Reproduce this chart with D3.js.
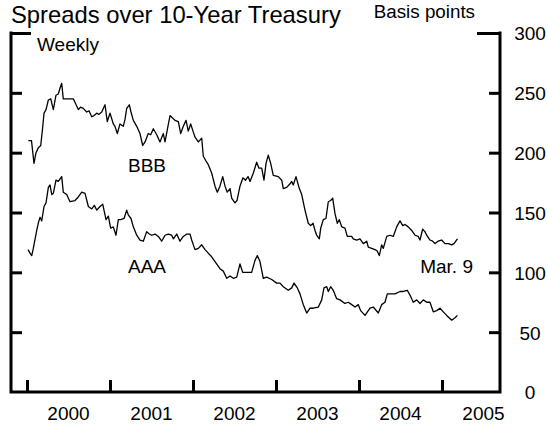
<!DOCTYPE html>
<html><head><meta charset="utf-8">
<script src="https://cdn.jsdelivr.net/npm/d3@7"></script>
<style>
body{margin:0;background:#fff;}
text{font-family:"Liberation Sans",Arial,sans-serif;fill:#000;}
</style></head>
<body><svg id="c" width="549" height="427"></svg>
<script>
// Weekly spreads (basis points), time as decimal offset in years from Jan 1, 2000
const bbbTime = [0.016,0.054,0.084,0.108,0.136,0.165,0.187,0.205,0.229,0.257,0.286,0.317,0.349,0.377,0.398,0.418,0.437,0.558,0.618,0.645,0.678,0.719,0.747,0.780,0.807,0.840,0.867,0.900,0.940,0.967,1.000,1.040,1.060,1.088,1.120,1.160,1.181,1.201,1.233,1.253,1.281,1.322,1.361,1.394,1.422,1.461,1.490,1.522,1.563,1.602,1.642,1.663,1.690,1.723,1.753,1.783,1.823,1.852,1.883,1.916,1.943,1.972,2.000,2.024,2.064,2.105,2.124,2.157,2.184,2.225,2.265,2.293,2.325,2.358,2.386,2.413,2.446,2.466,2.486,2.506,2.530,2.566,2.602,2.633,2.663,2.687,2.727,2.767,2.795,2.828,2.855,2.880,2.907,2.936,2.967,3.028,3.069,3.088,3.129,3.169,3.189,3.208,3.241,3.281,3.310,3.349,3.389,3.418,3.446,3.470,3.490,3.522,3.539,3.570,3.602,3.630,3.659,3.683,3.711,3.739,3.763,3.792,3.831,3.859,3.912,3.931,3.972,4.012,4.052,4.093,4.112,4.153,4.193,4.217,4.245,4.273,4.293,4.334,4.373,4.413,4.454,4.494,4.527,4.554,4.594,4.635,4.675,4.714,4.735,4.767,4.795,4.816,4.855,4.888,4.916,4.952,4.996,5.036,5.076,5.117,5.145,5.186];
const bbbValues = [210,210,191,200,204,206,220,233,236,244,245,236,248,249,254,258,245,245,236,238,237,234,235,230,231,233,232,234,240,226,233,224,222,216,224,222,228,237,240,234,227,222,216,206,209,216,215,220,215,209,216,209,219,231,229,227,226,216,222,227,218,224,218,213,209,212,197,193,190,183,172,167,172,180,172,167,170,162,160,158,160,172,179,177,180,176,183,192,187,187,177,191,198,191,181,180,177,170,171,174,176,173,180,170,165,152,141,139,141,135,131,128,137,144,145,159,160,162,149,141,144,138,137,130,130,128,127,128,124,126,121,120,119,118,114,123,120,130,131,130,138,143,139,140,138,135,131,130,127,136,134,131,127,126,124,126,127,124,124,123,124,128];
const aaaTime = [0.012,0.036,0.057,0.076,0.117,0.139,0.157,0.177,0.205,0.229,0.257,0.277,0.298,0.317,0.349,0.377,0.398,0.418,0.437,0.478,0.518,0.578,0.618,0.659,0.699,0.739,0.780,0.811,0.840,0.880,0.912,0.952,0.980,1.008,1.040,1.072,1.100,1.129,1.169,1.201,1.220,1.253,1.281,1.322,1.361,1.401,1.442,1.473,1.502,1.542,1.582,1.623,1.663,1.702,1.743,1.763,1.804,1.843,1.883,1.924,1.964,1.984,2.024,2.064,2.105,2.145,2.184,2.225,2.265,2.325,2.365,2.406,2.446,2.486,2.527,2.566,2.599,2.647,2.707,2.747,2.775,2.807,2.847,2.888,2.948,3.008,3.048,3.088,3.148,3.189,3.217,3.257,3.289,3.329,3.370,3.410,3.449,3.510,3.551,3.578,3.611,3.630,3.659,3.690,3.731,3.771,3.831,3.871,3.912,3.952,3.992,4.020,4.072,4.133,4.172,4.233,4.273,4.313,4.341,4.373,4.434,4.494,4.534,4.582,4.614,4.654,4.695,4.735,4.775,4.816,4.855,4.895,4.936,4.976,5.016,5.057,5.117,5.157,5.186];
const aaaValues = [119,116,114,120,135,142,146,143,155,158,171,173,165,166,177,176,178,180,167,165,159,160,163,167,166,155,153,156,152,155,157,144,147,137,138,131,144,144,145,152,148,145,138,131,127,126,134,132,131,132,130,126,131,132,131,128,132,126,130,132,132,127,119,120,123,119,116,113,109,103,101,95,97,95,96,107,100,100,100,110,114,109,95,96,94,91,91,88,85,87,91,87,82,73,66,70,70,71,77,87,88,84,88,85,78,77,74,75,73,71,73,68,64,70,71,66,73,75,82,82,82,84,84,85,81,75,77,74,77,75,75,67,68,70,67,64,60,62,64];
const yearTicks = [2000,2001,2002,2003,2004,2005];
const yearLabels = ["2000","2001","2002","2003","2004","2005"];
const yTicks = [0,50,100,150,200,250,300];

const svg = d3.select("#c");
const x = d3.scaleLinear().domain([1999.807, 2005.699]).range([11, 500]);
const y = d3.scaleLinear().domain([0, 300]).range([392, 33]);

// Title and units
svg.append("text").attr("x", 11).attr("y", 23).attr("font-size", 23.8).text("Spreads over 10-Year Treasury");
svg.append("text").attr("x", 475).attr("y", 18).attr("font-size", 18.8).attr("text-anchor", "end").text("Basis points");
svg.append("text").attr("x", 37).attr("y", 51).attr("font-size", 19).text("Weekly");

// Frame
const frame = svg.append("g").attr("stroke", "#000").attr("stroke-width", 3).attr("fill", "none");
frame.append("path").attr("d", `M${x.range()[0]},${y(300)}V${y(0)}H${x.range()[1]}V${y(300)}`).attr("stroke-linecap", "square");

// Left ticks
const leftAxis = svg.append("g").attr("transform", `translate(${x.range()[0]},0)`)
  .call(d3.axisRight(y).tickValues(yTicks.filter(v => v > 0)).tickSize(11).tickFormat(""));
leftAxis.select(".domain").remove();
leftAxis.selectAll(".tick line").attr("stroke-width", 3).attr("x2", d => d === 300 ? 20 : 11);

// Right ticks and labels
const rightAxis = svg.append("g").attr("transform", `translate(${x.range()[1]},0)`)
  .call(d3.axisLeft(y).tickValues(yTicks).tickSize(11));
rightAxis.select(".domain").remove();
rightAxis.selectAll(".tick line").attr("stroke-width", 3).attr("x2", d => d === 300 ? -23 : (d === 0 ? 0 : -11));
rightAxis.selectAll(".tick text").attr("x", 30).attr("dy", "0.36em").attr("text-anchor", "middle")
  .attr("font-size", 19).attr("font-family", "Liberation Sans, Arial, sans-serif");

// Bottom ticks
const bottomAxis = svg.append("g").attr("transform", `translate(0,${y(0)})`)
  .call(d3.axisTop(x).tickValues(yearTicks).tickSize(12).tickFormat(""));
bottomAxis.select(".domain").remove();
bottomAxis.selectAll(".tick line").attr("stroke-width", 3);

// Year labels centred in each year
svg.append("g").selectAll("text").data(yearTicks).join("text")
  .attr("x", d => x(d + 0.5)).attr("y", 420).attr("font-size", 19).attr("text-anchor", "middle")
  .text((d, i) => yearLabels[i]);

// Lines
const line = d3.line().x(d => x(2000 + d[0])).y(d => y(d[1]));
const bbb = d3.zip(bbbTime, bbbValues);
const aaa = d3.zip(aaaTime, aaaValues);
svg.append("path").datum(bbb).attr("d", line).attr("fill", "none").attr("stroke", "#000").attr("stroke-width", 1.3).attr("stroke-linejoin", "round");
svg.append("path").datum(aaa).attr("d", line).attr("fill", "none").attr("stroke", "#000").attr("stroke-width", 1.3).attr("stroke-linejoin", "round");

// Series labels
svg.append("text").attr("x", 147).attr("y", 172).attr("font-size", 19).attr("text-anchor", "middle").text("BBB");
svg.append("text").attr("x", 147).attr("y", 273).attr("font-size", 19).attr("text-anchor", "middle").text("AAA");
svg.append("text").attr("x", 473).attr("y", 273).attr("font-size", 19).attr("text-anchor", "end").text("Mar. 9");
</script></body></html>
